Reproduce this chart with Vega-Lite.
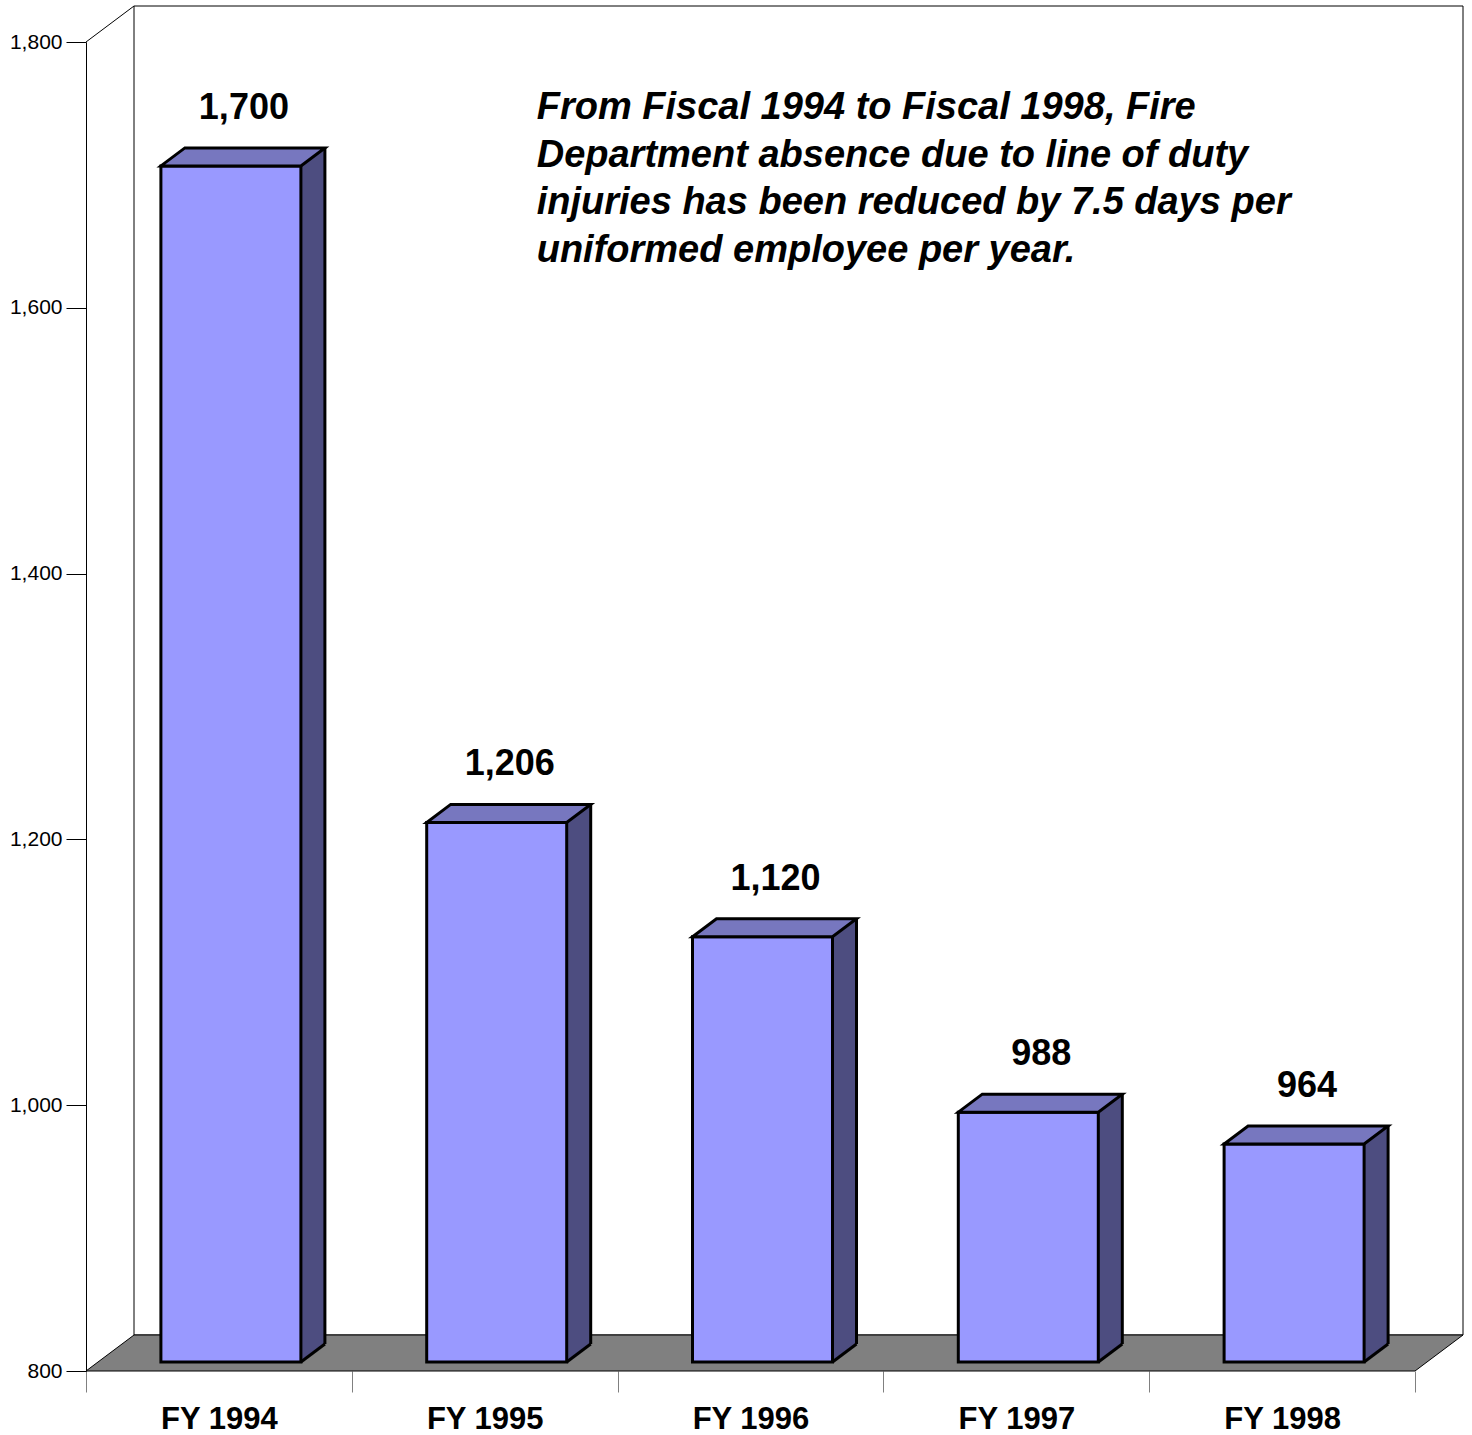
{
  "$schema": "https://vega.github.io/schema/vega-lite/v6.json",
  "width": 1329,
  "height": 1329,
  "autosize": {"type": "none"},
  "padding": {"left": 86, "top": 42, "right": 57, "bottom": 64},
  "background": "white",
  "config": {"view": {"stroke": null}, "font": "Liberation Sans"},
  "data": {
    "values": [
      {"cat": "FY 1994", "value": 1700},
      {"cat": "FY 1995", "value": 1206},
      {"cat": "FY 1996", "value": 1120},
      {"cat": "FY 1997", "value": 988},
      {"cat": "FY 1998", "value": 964}
    ]
  },
  "layer": [
    {
      "data": {"values": [{}]},
      "mark": {"type": "point", "shape": "M -1 -1 L 1 -1 L 1 1 L -1 1 Z", "filled": true, "fill": "white", "stroke": "black", "strokeWidth": 1, "opacity": 1, "size": 1766241, "xOffset": 48, "yOffset": -36},
      "encoding": {
        "y": {"datum": 1300, "type": "quantitative", "scale": {"domain": [800, 1800], "nice": false, "zero": false}}
      }
    },
    {
      "data": {"values": [{}]},
      "mark": {"type": "point", "shape": "M -1 0.026144 L 0.93028 0.026144 L 1 -0.026144 L -0.93028 -0.026144 Z", "filled": true, "fill": "#808080", "stroke": "black", "strokeWidth": 1, "opacity": 1, "size": 1896129, "xOffset": 24, "yOffset": -18},
      "encoding": {
        "y": {"datum": 800, "type": "quantitative"}
      }
    },
    {
      "data": {"values": [{}]},
      "mark": {"type": "point", "shape": "M -1 0.75 L 1 -0.75", "filled": false, "stroke": "black", "strokeWidth": 1, "opacity": 1, "size": 2304, "xOffset": 24, "yOffset": -18},
      "encoding": {
        "x": {"datum": "FY 1994", "type": "nominal", "bandPosition": 0},
        "y": {"datum": 1800, "type": "quantitative"}
      }
    },
    {
      "mark": {"type": "bar", "fill": "#4D4D80", "width": 24, "xOffset": 94, "yOffset": -27, "y2Offset": -9},
      "encoding": {
        "x": {"field": "cat", "type": "nominal"},
        "y": {"field": "value", "type": "quantitative"},
        "y2": {"datum": 800}
      }
    },
    {
      "mark": {"type": "point", "shape": "M -1.1 0.825 L 1.15 0.825 L 1.15 -0.8625 Z", "filled": true, "fill": "#808080", "strokeWidth": 0, "opacity": 1, "size": 576, "xOffset": 94, "yOffset": -18},
      "encoding": {
        "x": {"field": "cat", "type": "nominal"},
        "y": {"datum": 800, "type": "quantitative"}
      }
    },
    {
      "mark": {"type": "point", "shape": "M -1 0.75 L 1 -0.75", "filled": false, "stroke": "black", "strokeWidth": 3, "opacity": 1, "size": 576, "xOffset": 94, "yOffset": -18},
      "encoding": {
        "x": {"field": "cat", "type": "nominal"},
        "y": {"datum": 800, "type": "quantitative"}
      }
    },
    {
      "mark": {"type": "rule", "stroke": "black", "strokeWidth": 3, "xOffset": 106, "yOffset": -27, "y2Offset": -27},
      "encoding": {
        "x": {"field": "cat", "type": "nominal"},
        "y": {"field": "value", "type": "quantitative"},
        "y2": {"datum": 800}
      }
    },
    {
      "mark": {"type": "bar", "fill": "#9999FF", "stroke": "black", "strokeWidth": 3, "width": 140, "xOffset": 12, "yOffset": -9, "y2Offset": -9},
      "encoding": {
        "x": {
          "field": "cat", "type": "nominal",
          "scale": {"paddingInner": 0, "paddingOuter": 0},
          "axis": {"title": null, "labelAngle": 0, "labelAlign": "center", "labelFontSize": 31, "labelFontWeight": "bold", "labelColor": "black", "labelFont": "Liberation Sans", "tickSize": 21, "tickColor": "#808080", "tickWidth": 1, "tickBand": "extent", "domain": false, "labelPadding": 27}
        },
        "y": {
          "field": "value", "type": "quantitative",
          "scale": {"domain": [800, 1800], "nice": false, "zero": false},
          "axis": {"title": null, "values": [800, 1000, 1200, 1400, 1600, 1800], "format": ",.0f", "labelFontSize": 21, "labelColor": "black", "labelFont": "Liberation Sans", "tickColor": "black", "tickSize": 20, "tickWidth": 1, "domainColor": "black", "domainWidth": 1, "labelPadding": 4, "grid": false}
        },
        "y2": {"datum": 800}
      }
    },
    {
      "mark": {"type": "point", "shape": "M -1 0.1098 L 0.7073 0.1098 L 1 -0.1098 L -0.7073 -0.1098 Z", "filled": true, "fill": "#7777BF", "stroke": "black", "strokeWidth": 3, "opacity": 1, "size": 26896, "xOffset": 24, "yOffset": -18},
      "encoding": {
        "x": {"field": "cat", "type": "nominal"},
        "y": {"field": "value", "type": "quantitative"}
      }
    },
    {
      "mark": {"type": "text", "fontSize": 36, "fontWeight": "bold", "font": "Liberation Sans", "color": "black", "align": "center", "baseline": "alphabetic", "dx": 25, "dy": -56},
      "encoding": {
        "x": {"field": "cat", "type": "nominal"},
        "y": {"field": "value", "type": "quantitative"},
        "text": {"field": "value", "type": "quantitative", "format": ",.0f"}
      }
    },
    {
      "data": {"values": [{"note": ["From Fiscal 1994 to Fiscal 1998, Fire", "Department absence due to line of duty", "injuries has been reduced by 7.5 days per", "uniformed employee per year."]}]},
      "mark": {"type": "text", "fontSize": 38, "fontWeight": "bold", "fontStyle": "italic", "font": "Liberation Sans", "color": "black", "align": "left", "baseline": "alphabetic", "lineHeight": 47.5, "dx": 52, "dy": 77},
      "encoding": {
        "x": {"datum": "FY 1995", "type": "nominal"},
        "y": {"datum": 1800, "type": "quantitative"},
        "text": {"field": "note"}
      }
    }
  ]
}
